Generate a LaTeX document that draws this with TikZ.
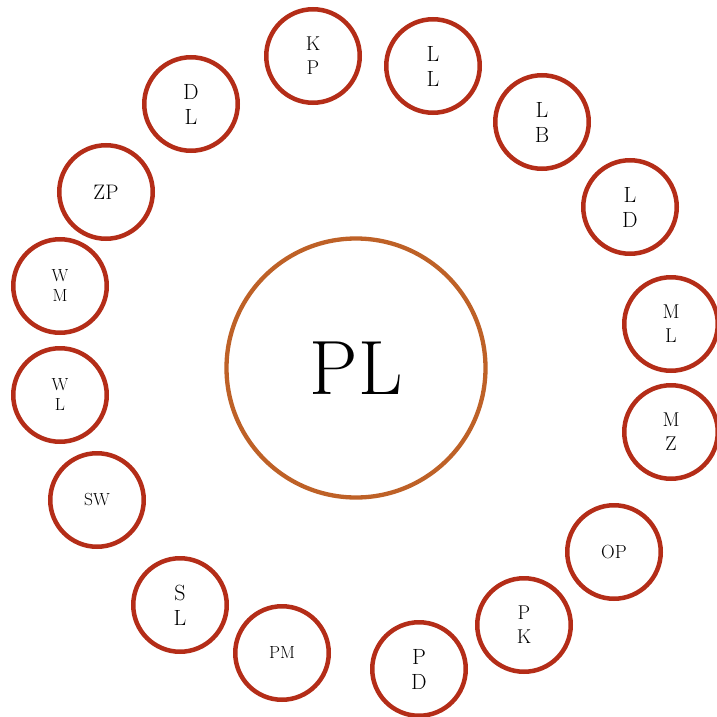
\documentclass[tikz,border=0pt]{standalone}
\usepackage{xcolor}
\definecolor{ringred}{RGB}{180,45,24}
\definecolor{ringorange}{RGB}{190,97,39}
\tikzset{
  petal/.style={circle, draw=ringred, line width=4.5pt, minimum size=93.5pt, inner sep=0pt, align=center, fill=white},
  hub/.style={circle, draw=ringorange, line width=4.3pt, minimum size=259pt, inner sep=0pt},
  fa/.style={font=\fontsize{22}{25}\selectfont},
  fb/.style={font=\fontsize{20}{24}\selectfont},
  fc/.style={font=\fontsize{17.5}{20}\selectfont},
}
\begin{document}
\begin{tikzpicture}[x=1pt,y=-1pt]
\useasboundingbox (0,0) rectangle (716,717);
\node[hub, font=\fontsize{77}{90}\selectfont] (PL) at (356,368) {PL};
\node[petal, fb] (KP) at (313,56) {K\\P};
\node[petal, fa] (LL) at (433,66) {L\\L};
\node[petal, fa] (LB) at (542,122) {L\\B};
\node[petal, fa] (LD) at (630,207) {L\\D};
\node[petal, fb] (ML) at (671,324) {M\\L};
\node[petal, fb] (MZ) at (671,432) {M\\Z};
\node[petal, font=\fontsize{19}{22}\selectfont] (OP) at (614,552) {OP};
\node[petal, fb] (PK) at (524,625) {P\\K};
\node[petal, fa] (PD) at (419,669) {P\\D};
\node[petal, fc] (PM) at (282,653) {PM};
\node[petal, fa] (SL) at (180,605) {S\\L};
\node[petal, fc] (SW) at (97,500) {SW};
\node[petal, fc] (WL) at (60,395) {W\\L};
\node[petal, fc] (WM) at (60,286) {W\\M};
\node[petal, font=\fontsize{21}{24}\selectfont] (ZP) at (106,192) {ZP};
\node[petal, fa] (DL) at (191,104) {D\\L};
\end{tikzpicture}
\end{document}
